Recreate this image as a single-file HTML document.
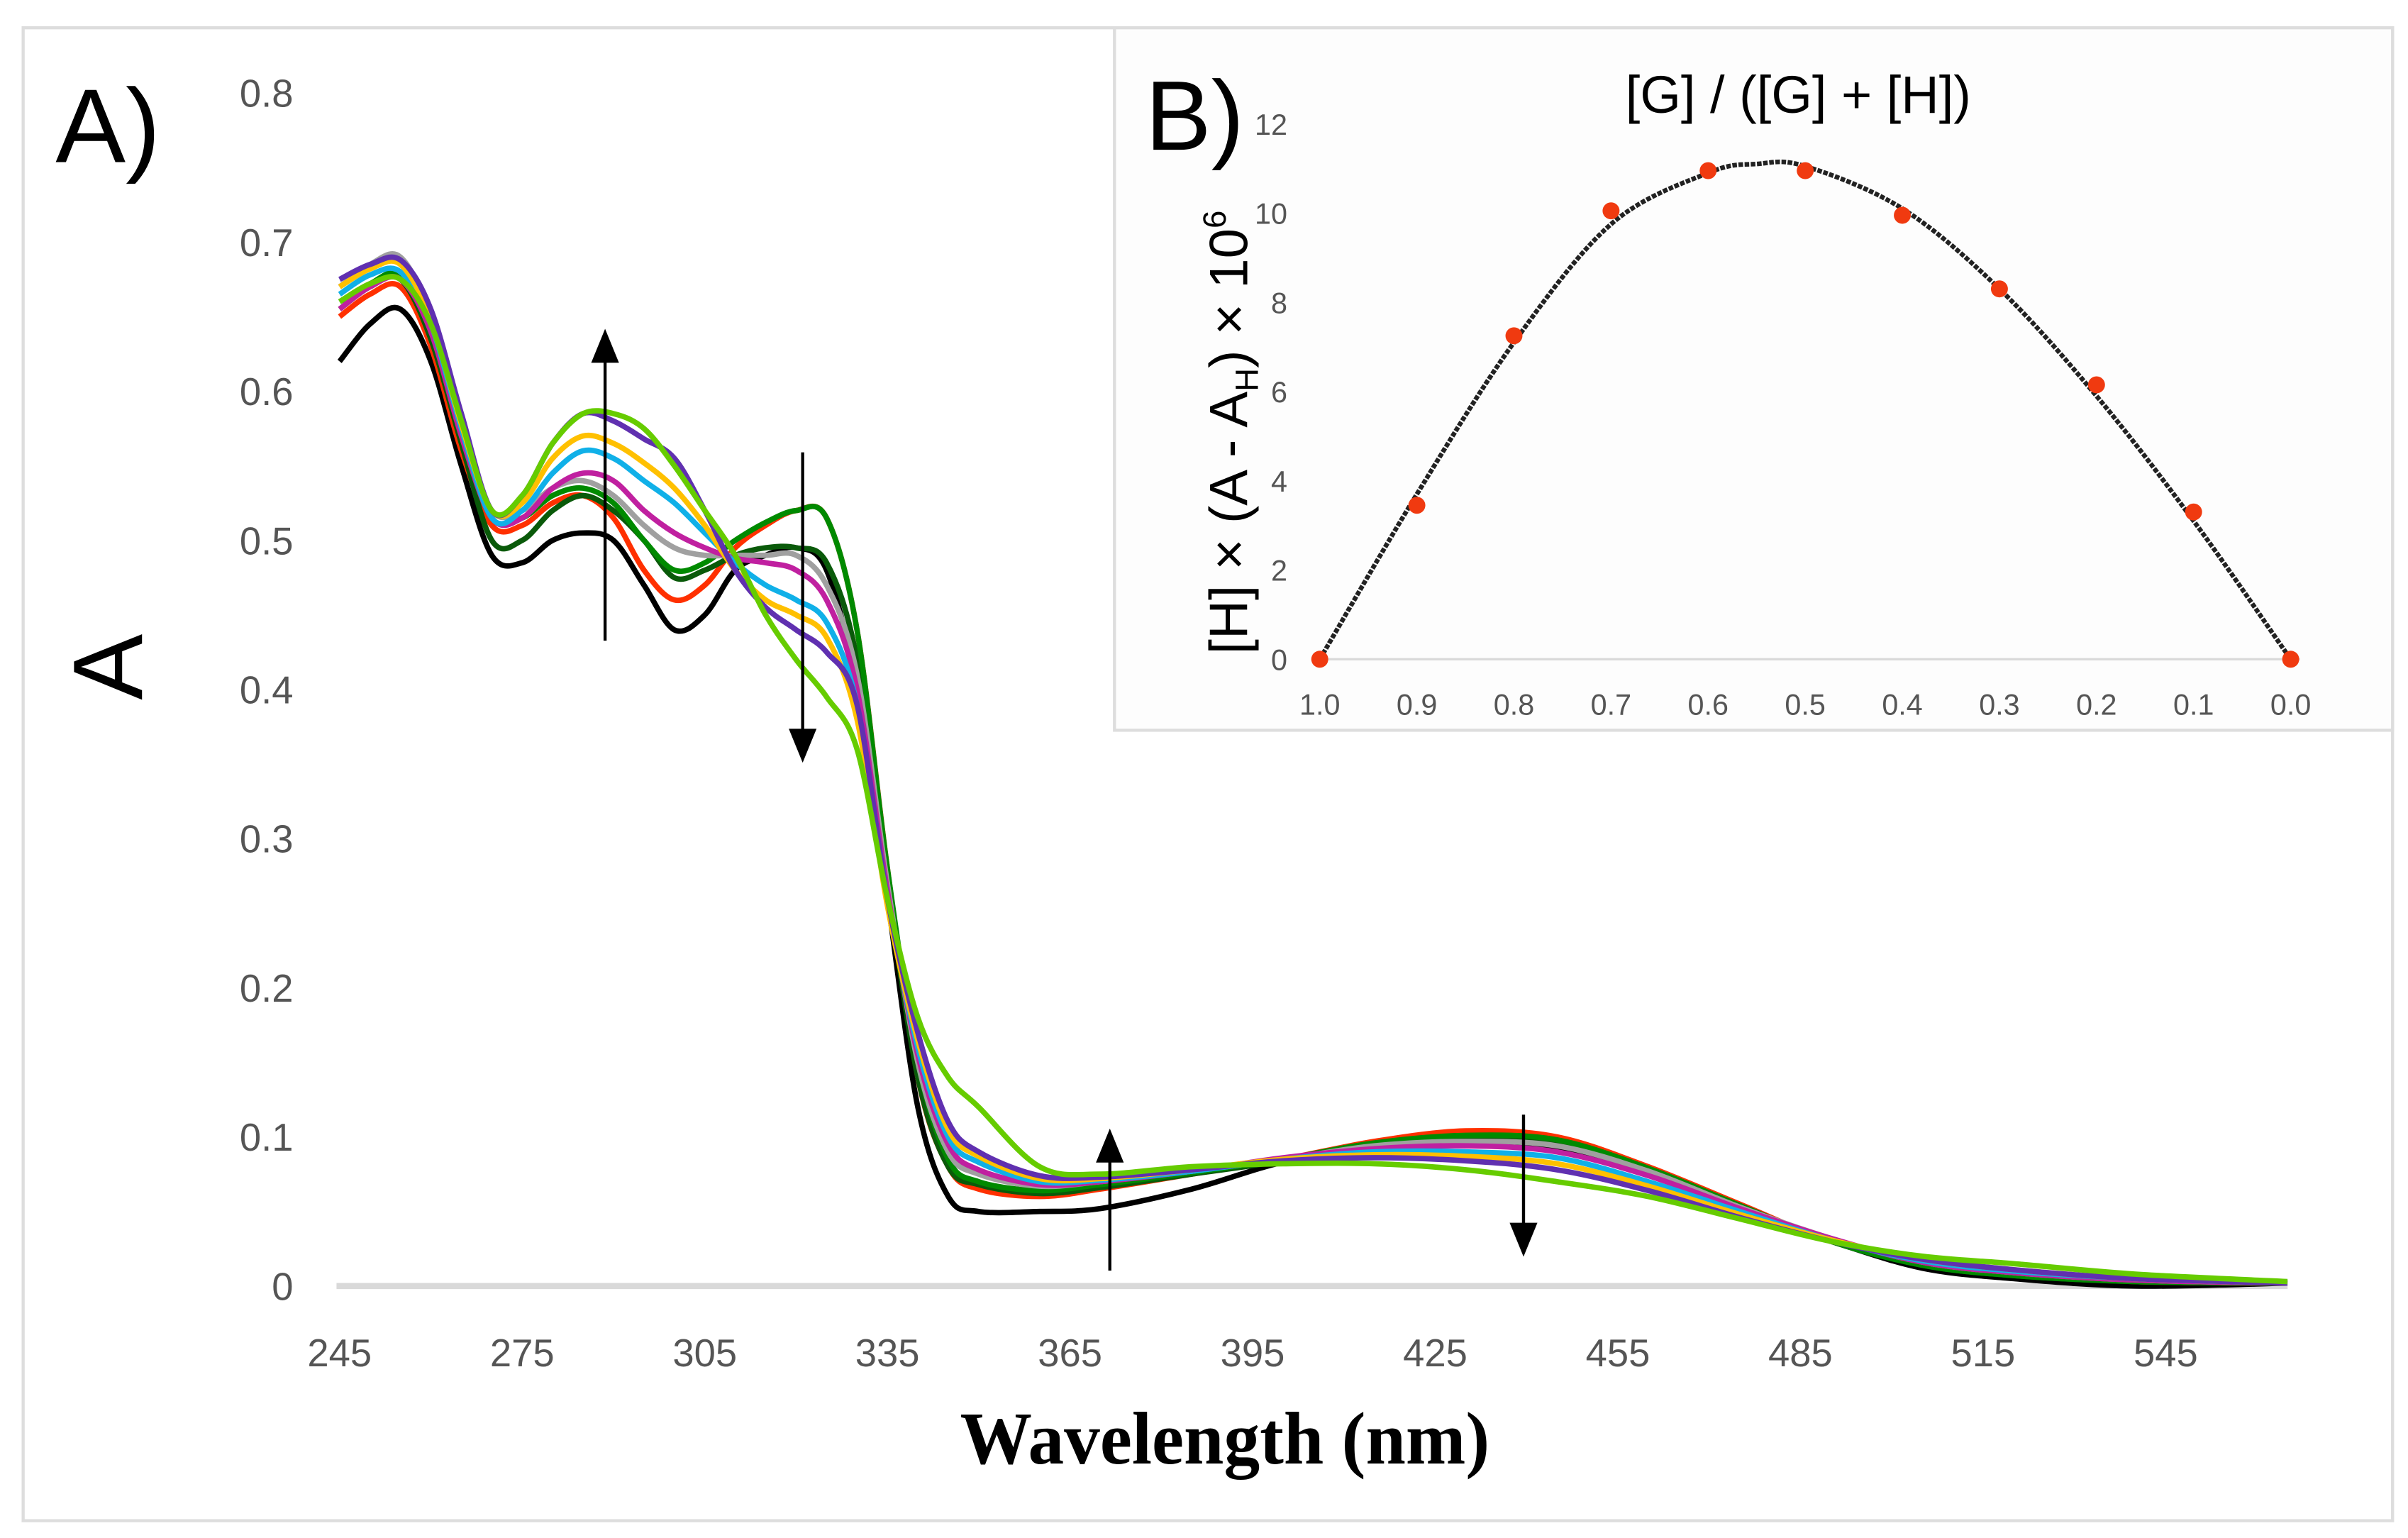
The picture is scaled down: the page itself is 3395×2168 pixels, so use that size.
<!DOCTYPE html>
<html><head><meta charset="utf-8"><style>
html,body{margin:0;padding:0;background:#fff}
svg{display:block}
</style></head><body>
<svg id="fig" width="3395" height="2168" viewBox="0 0 1560 996.2" preserveAspectRatio="none" xmlns="http://www.w3.org/2000/svg" font-family="Liberation Sans, sans-serif">
<rect x="15" y="18" width="1535" height="967" fill="#fff" stroke="#ddd" stroke-width="2"/>
<g id="pa"></g>
<rect x="722" y="18" width="828" height="455" fill="#fdfdfd" stroke="#ddd" stroke-width="2"/>
<g id="pb"></g>
</svg>
<script>
const wl=[245,250,255,260,265,270,275,280,285,290,295,300,305,310,315,320,325,330,335,340,345,350,360,370,385,400,415,430,445,460,475,490,505,520,540,565];
const sBlack=[0.62,0.645,0.655,0.62,0.55,0.49,0.485,0.5,0.505,0.5,0.47,0.44,0.45,0.48,0.49,0.495,0.48,0.4,0.26,0.12,0.06,0.05,0.05,0.052,0.065,0.083,0.092,0.095,0.092,0.075,0.05,0.03,0.012,0.005,0,0.002];
const sRed=[0.65,0.665,0.67,0.63,0.56,0.51,0.51,0.525,0.53,0.515,0.48,0.46,0.47,0.495,0.51,0.52,0.515,0.44,0.28,0.14,0.08,0.065,0.06,0.065,0.075,0.085,0.097,0.104,0.1,0.08,0.055,0.03,0.015,0.008,0.003,0.002];
const sDkGreen=[0.655,0.67,0.675,0.635,0.565,0.5,0.5,0.52,0.53,0.52,0.5,0.475,0.48,0.49,0.495,0.495,0.485,0.42,0.27,0.14,0.08,0.068,0.062,0.066,0.075,0.084,0.095,0.1,0.097,0.078,0.054,0.03,0.014,0.007,0.003,0.002];
const sGreen=[0.66,0.672,0.678,0.64,0.57,0.515,0.515,0.53,0.535,0.525,0.5,0.48,0.485,0.5,0.512,0.52,0.515,0.44,0.28,0.15,0.085,0.07,0.064,0.068,0.076,0.085,0.096,0.101,0.098,0.079,0.054,0.03,0.014,0.007,0.003,0.002];
const sGray=[0.67,0.685,0.69,0.65,0.575,0.52,0.52,0.535,0.54,0.53,0.51,0.495,0.49,0.49,0.49,0.49,0.47,0.41,0.27,0.15,0.09,0.075,0.067,0.07,0.077,0.085,0.094,0.097,0.094,0.077,0.053,0.032,0.016,0.009,0.004,0.002];
const sMagenta=[0.655,0.67,0.675,0.64,0.57,0.515,0.515,0.535,0.545,0.54,0.52,0.505,0.495,0.488,0.485,0.48,0.46,0.4,0.265,0.155,0.095,0.078,0.068,0.07,0.077,0.086,0.092,0.094,0.09,0.074,0.052,0.032,0.016,0.009,0.004,0.002];
const sCyan=[0.665,0.678,0.68,0.645,0.575,0.515,0.52,0.545,0.56,0.555,0.54,0.525,0.505,0.485,0.47,0.46,0.445,0.39,0.26,0.16,0.1,0.083,0.07,0.071,0.077,0.085,0.09,0.09,0.086,0.07,0.05,0.031,0.017,0.01,0.005,0.002];
const sYellow=[0.67,0.682,0.685,0.648,0.578,0.52,0.525,0.555,0.57,0.565,0.552,0.535,0.51,0.48,0.46,0.45,0.435,0.38,0.255,0.165,0.105,0.087,0.072,0.072,0.078,0.085,0.088,0.087,0.082,0.067,0.048,0.031,0.018,0.011,0.005,0.002];
const sPurple=[0.675,0.685,0.688,0.655,0.585,0.52,0.53,0.565,0.585,0.58,0.568,0.555,0.52,0.48,0.455,0.44,0.425,0.39,0.26,0.17,0.11,0.09,0.074,0.073,0.078,0.084,0.086,0.084,0.078,0.064,0.046,0.03,0.018,0.011,0.005,0.002];
const sLime=[0.66,0.672,0.675,0.645,0.58,0.52,0.53,0.565,0.585,0.585,0.575,0.55,0.52,0.49,0.45,0.42,0.395,0.36,0.26,0.18,0.14,0.12,0.08,0.075,0.08,0.082,0.082,0.078,0.07,0.06,0.045,0.03,0.02,0.015,0.008,0.003];
const seriesList=[sBlack,sRed,sDkGreen,sGreen,sGray,sMagenta,sCyan,sYellow,sPurple,sLime];
const seriesColors=["#000","#ff3000","#0a5a0a","#008a00","#a0a0a0","#c020a0","#10b0e8","#ffc000","#6030b0","#66cc00"];
const seriesNames=["black","red","dark-green","green","gray","magenta","cyan","yellow","purple","lime"];
const aYTicks=[0,0.1,0.2,0.3,0.4,0.5,0.6,0.7,0.8];
const aXTicks=[245,275,305,335,365,395,425,455,485,515,545];

const bX=[1.0,0.9,0.8,0.7,0.6,0.5,0.4,0.3,0.2,0.1,0.0];
const bY=[0,3.45,7.25,10.05,10.95,10.95,9.95,8.3,6.15,3.3,0];
const bFitX=[1.0,0.9,0.8,0.7,0.6,0.55,0.5,0.4,0.3,0.2,0.1,0.0];
const bFitY=[0,3.7,7.1,9.75,10.9,11.1,11.05,10.1,8.3,5.9,3.1,0];
const bXTicks=["1.0","0.9","0.8","0.7","0.6","0.5","0.4","0.3","0.2","0.1","0.0"];
const bYTicks=[0,2,4,6,8,10,12];

const NS="http://www.w3.org/2000/svg";
function mk(tag,attrs,parent,txt){const e=document.createElementNS(NS,tag);for(const k in attrs)e.setAttribute(k,attrs[k]);if(txt!==undefined)e.textContent=txt;parent.appendChild(e);return e;}
function smooth(pts){let d="M"+pts[0][0]+","+pts[0][1];for(let i=0;i<pts.length-1;i++){const p0=pts[Math.max(0,i-1)],p1=pts[i],p2=pts[i+1],p3=pts[Math.min(pts.length-1,i+2)];const c1=[p1[0]+(p2[0]-p0[0])/6,p1[1]+(p2[1]-p0[1])/6],c2=[p2[0]-(p3[0]-p1[0])/6,p2[1]-(p3[1]-p1[1])/6];d+="C"+c1[0].toFixed(1)+","+c1[1].toFixed(1)+" "+c2[0].toFixed(1)+","+c2[1].toFixed(1)+" "+p2[0].toFixed(1)+","+p2[1].toFixed(1);}return d;}

// Panel A
const pa=document.getElementById('pa');
const ax=v=>220+(v-245)*118.3/30, ay=v=>833-v*966;
let e=mk('line',{x1:218,x2:1482,y1:ay(0),y2:ay(0),stroke:'#d9d9d9','stroke-width':4},pa);


aYTicks.forEach(t=>{const el=mk('text',{x:190,y:ay(t)+9,'text-anchor':'end','font-size':25,fill:'#555'},pa,t===0?"0":t.toFixed(1));

});
aXTicks.forEach(t=>{const el=mk('text',{x:ax(t),y:885,'text-anchor':'middle','font-size':25,fill:'#555'},pa,String(t));

});
seriesList.forEach((s,i)=>{const pts=s.map((v,j)=>[ax(wl[j]),ay(v)]);const p=mk('path',{d:smooth(pts),fill:'none',stroke:seriesColors[i],'stroke-width':3.5,'stroke-linejoin':'round'},pa);

});
function arrow(x,y1,y2,name){const dir=y2<y1?1:-1;const l=mk('line',{x1:x,x2:x,y1:y1,y2:y2+dir*18,stroke:'#000','stroke-width':2},pa);


const h=mk('polygon',{points:`${x-9},${y2+dir*22} ${x+9},${y2+dir*22} ${x},${y2}`,fill:'#000'},pa);

}
arrow(392,415,213,'arrow-up-285');arrow(520,293,494,'arrow-down-322');arrow(719,823,731,'arrow-up-370');arrow(987,722,814,'arrow-down-435');
e=mk('text',{x:36,y:105,'font-size':68,fill:'#000'},pa,"A)");


e=mk('text',{x:0,y:0,'font-size':64,fill:'#000','text-anchor':'middle',transform:'translate(92,432) rotate(-90)'},pa,"A");


e=mk('text',{x:622,y:948,'font-size':48,'font-weight':'bold',style:'font-family:"Liberation Serif",serif',textLength:343,lengthAdjust:'spacingAndGlyphs',fill:'#000'},pa,"Wavelength (nm)");



// Panel B
const pb=document.getElementById('pb');
const bx=v=>855+(1-v)*629, by=v=>427-v*28.9;
e=mk('line',{x1:850,x2:1490,y1:by(0),y2:by(0),stroke:'#d9d9d9','stroke-width':1.5},pb);


bYTicks.forEach(t=>{const el=mk('text',{x:834,y:by(t)+7,'text-anchor':'end','font-size':19,fill:'#555'},pb,String(t));

});
bXTicks.forEach(t=>{const el=mk('text',{x:bx(parseFloat(t)),y:463,'text-anchor':'middle','font-size':19,fill:'#555'},pb,t);

});
e=mk('path',{d:smooth(bFitX.map((v,i)=>[bx(v),by(bFitY[i])])),fill:'none',stroke:'#222','stroke-width':3,'stroke-dasharray':'3,1'},pb);


bX.forEach((v,i)=>{const c=mk('circle',{cx:bx(v),cy:by(bY[i]),r:5.5,fill:'#f03a10'},pb);

});
e=mk('text',{x:1165,y:73,'font-size':34,'text-anchor':'middle',fill:'#000'},pb,"[G] / ([G] + [H])");


e=mk('text',{x:742,y:97,'font-size':64,fill:'#000'},pb,"B)");


const yl=mk('text',{x:0,y:0,'font-size':35,'text-anchor':'middle',fill:'#000',transform:'translate(808,280) rotate(-90)'},pb);


mk('tspan',{},yl,"[H] × (A - A");
mk('tspan',{'font-size':21,dy:7},yl,"H");
mk('tspan',{dy:-7},yl,") × 10");
mk('tspan',{'font-size':21,dy:-14},yl,"6");
</script>
</body></html>
